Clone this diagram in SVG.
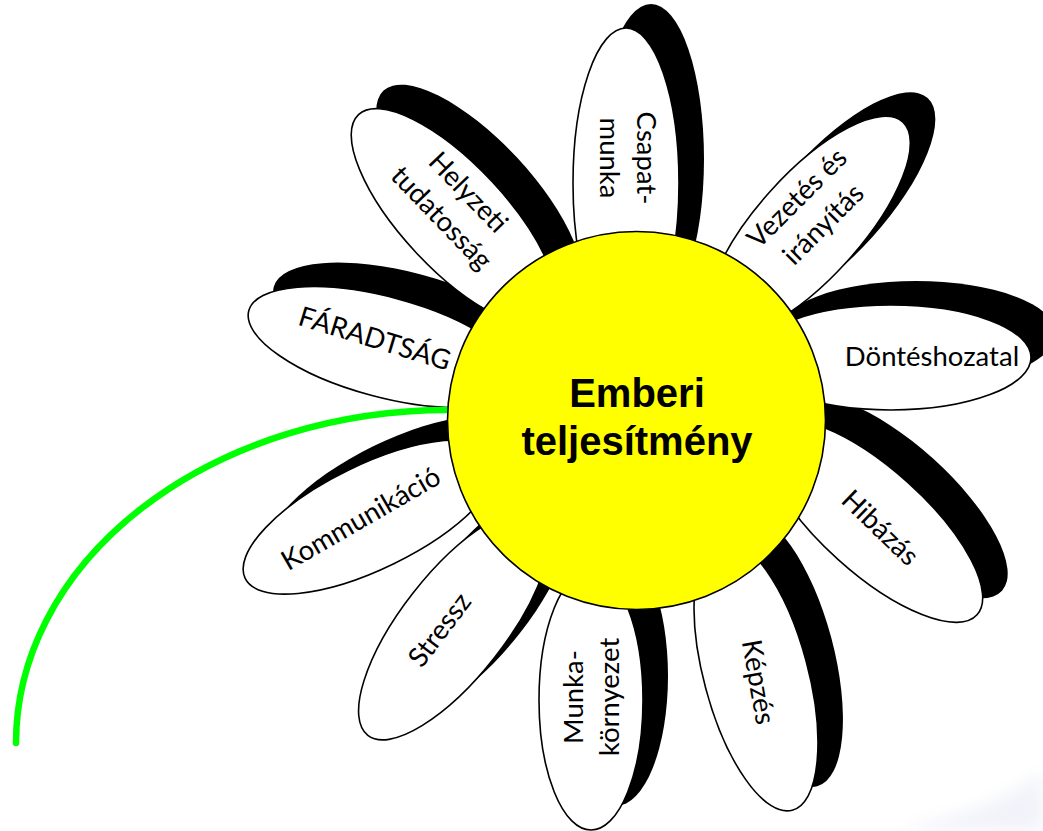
<svg xmlns="http://www.w3.org/2000/svg" width="1043" height="831" viewBox="0 0 1043 831">
<defs>
<style>
.shadow{fill:#000;stroke:none}
.petal{fill:#fff;stroke:#000;stroke-width:1.6}
.lbl{font-family:Lato,"Open Sans","Liberation Sans",sans-serif;font-size:27.5px;fill:#000;text-anchor:middle}
.ctr{font-family:"Liberation Sans",Arial,sans-serif;font-weight:bold;font-size:40px;fill:#000;text-anchor:middle}
.stem{fill:none;stroke:#00ff00;stroke-width:6.5;stroke-linecap:round}
</style>
<filter id="blur" x="-50%" y="-50%" width="200%" height="200%"><feGaussianBlur stdDeviation="8"/></filter>
</defs>
<rect width="1043" height="831" fill="#fff"/>
<path d="M890,831 C960,818 1010,798 1043,772 L1043,831 Z" fill="#d9ddf0" opacity="0.35" filter="url(#blur)"/>

<g id="node-munkakornyezet">
<ellipse class="shadow" cx="591" cy="700" rx="130" ry="52" transform="translate(25,-24) rotate(90 591 700)"/>
<ellipse class="petal" cx="591" cy="700" rx="130" ry="52" transform="rotate(90 591 700)"/>
<text class="lbl" transform="translate(592,697) rotate(-90)"><tspan x="0" y="-9">Munka-</tspan><tspan x="0" y="27">környezet</tspan></text>
</g>

<g id="node-kepzes">
<ellipse class="shadow" cx="756" cy="675" rx="140" ry="52" transform="translate(25,-24) rotate(75 756 675)"/>
<ellipse class="petal" cx="756" cy="675" rx="140" ry="52" transform="rotate(75 756 675)"/>
<text class="lbl" transform="translate(758,682) rotate(80)" y="9">Képzés</text>
</g>

<g id="node-hibazas">
<ellipse class="shadow" cx="873" cy="521" rx="140" ry="52" transform="translate(25,-24) rotate(42 873 521)"/>
<ellipse class="petal" cx="873" cy="521" rx="140" ry="52" transform="rotate(42 873 521)"/>
<text class="lbl" transform="translate(880,528) rotate(44)" y="9">Hibázás</text>
</g>

<g id="node-donteshozatal">
<ellipse class="shadow" cx="891" cy="357.5" rx="140" ry="52.5" transform="translate(25,-24)"/>
<ellipse class="petal" cx="891" cy="357.5" rx="140" ry="52.5"/>
<text class="lbl" x="932" y="366">Döntéshozatal</text>
</g>

<g id="node-vezetes">
<ellipse class="shadow" cx="809" cy="226" rx="140" ry="52" transform="translate(25,-24) rotate(-48 809 226)"/>
<ellipse class="petal" cx="809" cy="226" rx="140" ry="52" transform="rotate(-48 809 226)"/>
<text class="lbl" transform="translate(810,211) rotate(-45)"><tspan x="0" y="-9">Vezetés és</tspan><tspan x="0" y="28">irányítás</tspan></text>
</g>

<g id="node-stressz">
<ellipse class="shadow" cx="454" cy="625" rx="140" ry="52" transform="translate(25,-24) rotate(-52 454 625)"/>
<ellipse class="petal" cx="454" cy="625" rx="140" ry="52" transform="rotate(-52 454 625)"/>
<text class="lbl" transform="translate(440,630) rotate(-53)" y="9">Stressz</text>
</g>

<g id="node-kommunikacio">
<ellipse class="shadow" cx="371" cy="517" rx="140" ry="52" transform="translate(25,-24) rotate(-26 371 517)"/>
<ellipse class="petal" cx="371" cy="517" rx="140" ry="52" transform="rotate(-26 371 517)"/>
<text class="lbl" transform="translate(361,519) rotate(-30)" y="9">Kommunikáció</text>
</g>

<g id="node-faradtsag">
<ellipse class="shadow" cx="384" cy="347" rx="140" ry="50" transform="translate(25,-24) rotate(15 384 347)"/>
<ellipse class="petal" cx="384" cy="347" rx="140" ry="50" transform="rotate(15 384 347)"/>
<text class="lbl" transform="translate(375,338) rotate(17)" y="10">FÁRADTSÁG</text>
</g>

<g id="node-helyzeti">
<ellipse class="shadow" cx="454" cy="217" rx="140" ry="52" transform="translate(25,-24) rotate(47 454 217)"/>
<ellipse class="petal" cx="454" cy="217" rx="140" ry="52" transform="rotate(47 454 217)"/>
<text class="lbl" transform="translate(455,205) rotate(46)"><tspan x="0" y="-9">Helyzeti</tspan><tspan x="0" y="28">tudatosság</tspan></text>
</g>

<g id="node-csapatmunka">
<ellipse class="shadow" cx="626" cy="183" rx="155" ry="53" transform="translate(25,-24) rotate(90 626 183)"/>
<ellipse class="petal" cx="626" cy="183" rx="155" ry="53" transform="rotate(90 626 183)"/>
<text class="lbl" transform="translate(629,158) rotate(90)"><tspan x="0" y="-8">Csapat-</tspan><tspan x="0" y="29">munka</tspan></text>
</g>

<g id="connectors">
<path class="stem" d="M448,410 A432,333 0 0 0 16,743"/>
</g>

<g id="node-center">
<circle cx="636.5" cy="420.5" r="189" fill="#ffff00" stroke="#000" stroke-width="1.6"/>
<text class="ctr" x="637" y="407">Emberi</text>
<text class="ctr" x="637" y="455">teljesítmény</text>
</g>
</svg>
